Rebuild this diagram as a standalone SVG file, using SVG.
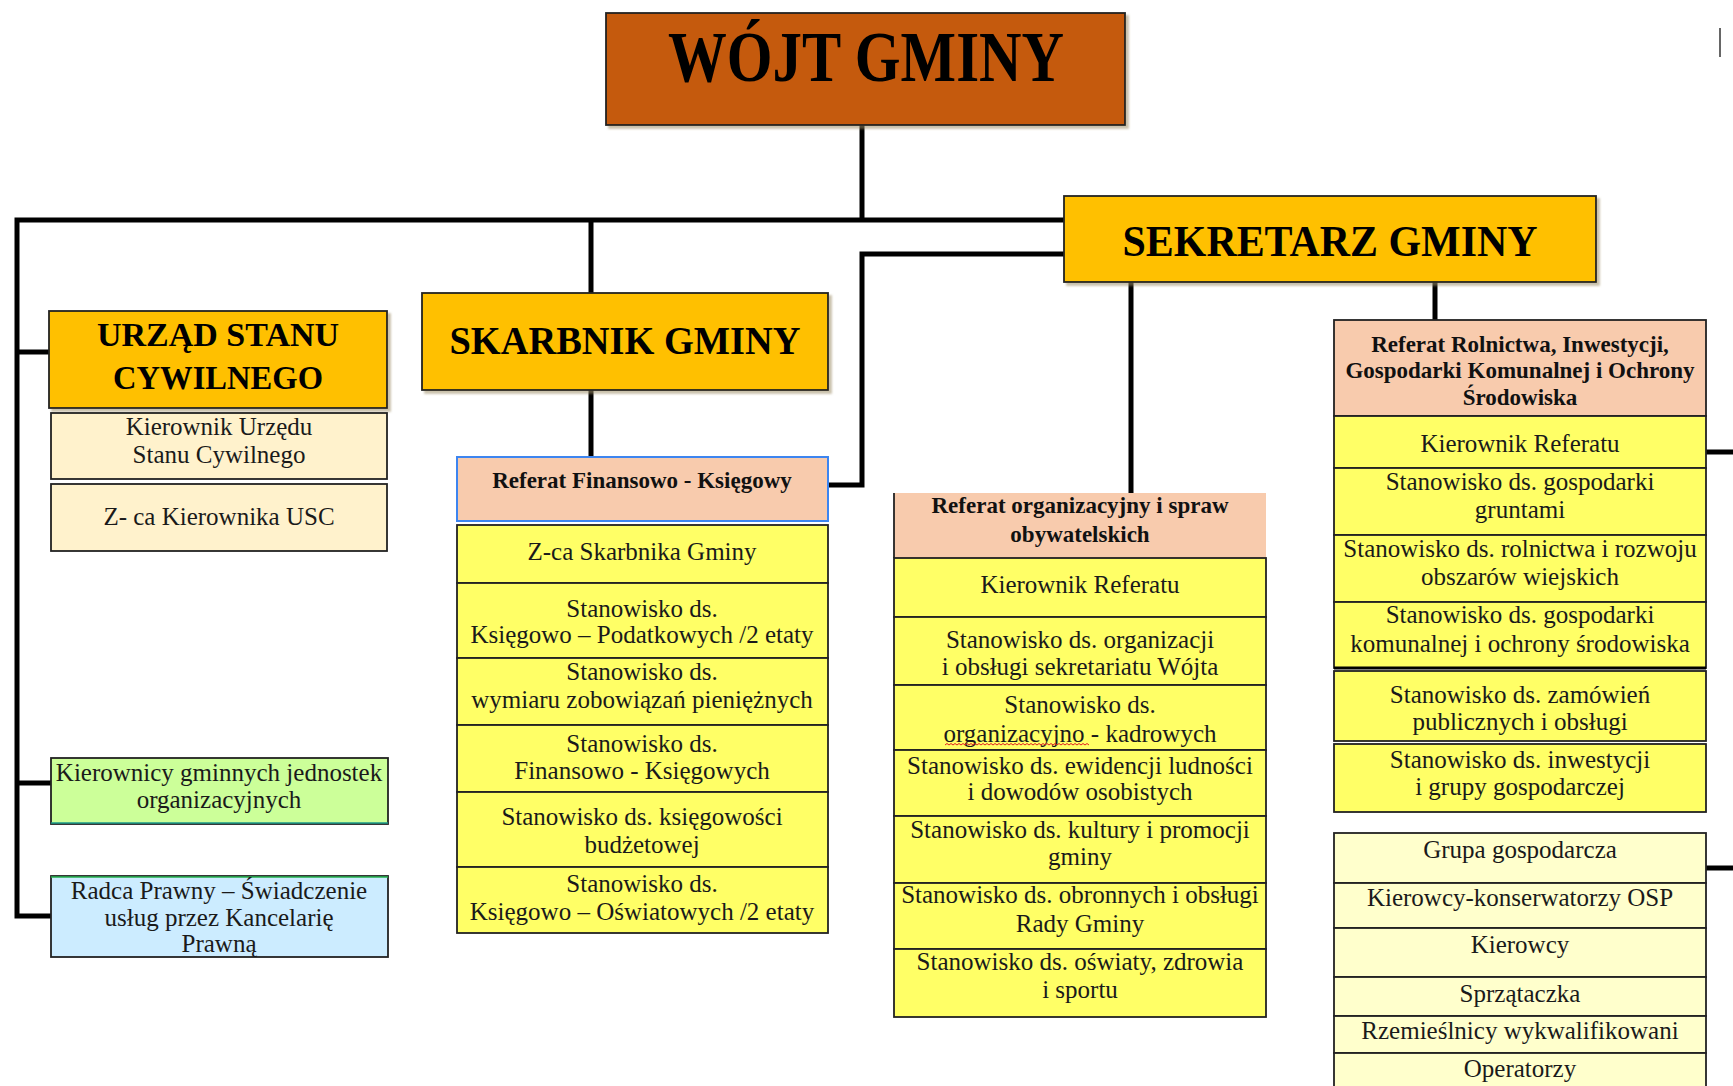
<svg xmlns="http://www.w3.org/2000/svg" width="1733" height="1086" viewBox="0 0 1733 1086">
<defs>
<style>
.conn{stroke:#000;stroke-width:5;fill:none;stroke-linejoin:miter}
.box{stroke:#222;stroke-width:1.8}
.hdr{fill:#FFC000}
.y{fill:#FFFF66}
.cream{fill:#FFF2CC}
.ly{fill:#FFFFCC}
.peach{fill:#F8CBAD}
text{font-family:"Liberation Serif","Times New Roman",serif;fill:#1a1a1a}
.t{font-size:25px;text-anchor:middle}
.b{font-weight:bold;font-size:23px;text-anchor:middle;fill:#111}
.big{font-weight:bold;text-anchor:middle;fill:#000}
</style>
<filter id="sh" x="-5%" y="-5%" width="112%" height="120%">
<feDropShadow dx="3" dy="3" stdDeviation="1.2" flood-color="#9c8f66" flood-opacity="0.55"/>
</filter>
</defs>
<rect width="1733" height="1086" fill="#fff"/>

<g id="connectors">
<path class="conn" d="M862,125 V220"/>
<path class="conn" d="M1064,220 H17 V916 H51"/>
<path class="conn" d="M17,352 H49"/>
<path class="conn" d="M17,783 H51"/>
<path class="conn" d="M591,220 V293"/>
<path class="conn" d="M591,390 V457"/>
<path class="conn" d="M828,485 H862 V254 H1064"/>
<path class="conn" d="M1131,282 V493"/>
<path class="conn" d="M1435,282 V320"/>
<path class="conn" d="M1706,452 H1733"/>
<path class="conn" d="M1706,868 H1733"/>
</g>

<line x1="1720" y1="28" x2="1720" y2="57" stroke="#333" stroke-width="1.5"/>

<g id="wojt">
<rect class="box" x="606" y="13" width="519" height="112" fill="#C55A11" filter="url(#sh)"/>
<text class="big" x="866" y="81" font-size="71" textLength="396" lengthAdjust="spacingAndGlyphs">WÓJT GMINY</text>
</g>

<g id="usc">
<rect class="box hdr" x="49" y="311" width="338" height="97" filter="url(#sh)"/>
<text class="big" x="218" y="346" font-size="34">URZĄD STANU</text>
<text class="big" x="218" y="389" font-size="34" textLength="210" lengthAdjust="spacingAndGlyphs">CYWILNEGO</text>
</g>
<g id="usc-kierownik">
<rect class="box cream" x="51" y="413" width="336" height="66"/>
<text class="t" x="219" y="435">Kierownik Urzędu</text>
<text class="t" x="219" y="463">Stanu Cywilnego</text>
</g>
<g id="usc-zca">
<rect class="box cream" x="51" y="484" width="336" height="67"/>
<text class="t" x="219" y="525">Z- ca Kierownika USC</text>
</g>

<g id="kierownicy">
<rect class="box" x="51" y="758" width="337" height="66" fill="#CCFF99"/>
<line x1="51" y1="823" x2="388" y2="823" stroke="#1a9a8a" stroke-width="1.5"/>
<text class="t" x="219" y="781">Kierownicy gminnych jednostek</text>
<text class="t" x="219" y="808">organizacyjnych</text>
</g>

<g id="radca">
<rect class="box" x="51" y="876" width="337" height="81" fill="#CCECFF"/>
<line x1="51" y1="877" x2="388" y2="877" stroke="#22b14c" stroke-width="1.5"/>
<text class="t" x="219" y="899">Radca Prawny – Świadczenie</text>
<text class="t" x="219" y="926">usług przez Kancelarię</text>
<text class="t" x="219" y="952">Prawną</text>
</g>

<g id="skarbnik">
<rect class="box hdr" x="422" y="293" width="406" height="97" filter="url(#sh)"/>
<text class="big" x="625" y="354" font-size="40" textLength="351" lengthAdjust="spacingAndGlyphs">SKARBNIK GMINY</text>
</g>

<g id="referat-fin">
<rect x="457" y="457" width="371" height="64" class="peach" stroke="#3D85F0" stroke-width="2"/>
<text class="b" x="642" y="488">Referat Finansowo - Księgowy</text>
</g>

<g id="skarbnik-stanowiska">
<rect class="box y" x="457" y="525" width="371" height="58"/>
<text class="t" x="642" y="560">Z-ca Skarbnika Gminy</text>
<rect class="box y" x="457" y="583" width="371" height="75"/>
<text class="t" x="642" y="617">Stanowisko ds.</text>
<text class="t" x="642" y="643">Księgowo – Podatkowych /2 etaty</text>
<rect class="box y" x="457" y="658" width="371" height="67"/>
<text class="t" x="642" y="680">Stanowisko ds.</text>
<text class="t" x="642" y="708">wymiaru zobowiązań pieniężnych</text>
<rect class="box y" x="457" y="725" width="371" height="67"/>
<text class="t" x="642" y="752">Stanowisko ds.</text>
<text class="t" x="642" y="779">Finansowo - Księgowych</text>
<rect class="box y" x="457" y="792" width="371" height="75"/>
<text class="t" x="642" y="825">Stanowisko ds. księgowości</text>
<text class="t" x="642" y="853">budżetowej</text>
<rect class="box y" x="457" y="867" width="371" height="66"/>
<text class="t" x="642" y="892">Stanowisko ds.</text>
<text class="t" x="642" y="920">Księgowo – Oświatowych /2 etaty</text>
</g>

<g id="sekretarz">
<rect class="box hdr" x="1064" y="196" width="532" height="86" filter="url(#sh)"/>
<text class="big" x="1330" y="256" font-size="44" textLength="415" lengthAdjust="spacingAndGlyphs">SEKRETARZ GMINY</text>
</g>

<g id="referat-org">
<rect class="peach" x="894" y="493" width="372" height="65"/>
<line x1="894" y1="493" x2="894" y2="558" stroke="#222" stroke-width="1.8"/>
<text class="b" x="1080" y="513">Referat organizacyjny i spraw</text>
<text class="b" x="1080" y="542">obywatelskich</text>
<rect class="box y" x="894" y="558" width="372" height="59"/>
<text class="t" x="1080" y="593">Kierownik Referatu</text>
<rect class="box y" x="894" y="617" width="372" height="68"/>
<text class="t" x="1080" y="648">Stanowisko ds. organizacji</text>
<text class="t" x="1080" y="675">i obsługi sekretariatu Wójta</text>
<rect class="box y" x="894" y="685" width="372" height="65"/>
<text class="t" x="1080" y="713">Stanowisko ds.</text>
<text class="t" x="1080" y="742">organizacyjno - kadrowych</text>
<path d="M945,745 l2,-1.5 l2,1.5 l2,-1.5 l2,1.5 l2,-1.5 l2,1.5 l2,-1.5 l2,1.5 l2,-1.5 l2,1.5 l2,-1.5 l2,1.5 l2,-1.5 l2,1.5 l2,-1.5 l2,1.5 l2,-1.5 l2,1.5 l2,-1.5 l2,1.5 l2,-1.5 l2,1.5 l2,-1.5 l2,1.5 l2,-1.5 l2,1.5 l2,-1.5 l2,1.5 l2,-1.5 l2,1.5 l2,-1.5 l2,1.5 l2,-1.5 l2,1.5 l2,-1.5 l2,1.5 l2,-1.5 l2,1.5 l2,-1.5 l2,1.5 l2,-1.5 l2,1.5 l2,-1.5 l2,1.5 l2,-1.5 l2,1.5 l2,-1.5 l2,1.5 l2,-1.5 l2,1.5 l2,-1.5 l2,1.5 l2,-1.5 l2,1.5 l2,-1.5 l2,1.5 l2,-1.5 l2,1.5 l2,-1.5 l2,1.5 l2,-1.5 l2,1.5 l2,-1.5 l2,1.5 l2,-1.5 l2,1.5 l2,-1.5 l2,1.5 l2,-1.5 l2,1.5 l2,-1.5 l2,1.5" fill="none" stroke="#e02020" stroke-width="1"/>
<rect class="box y" x="894" y="750" width="372" height="66"/>
<text class="t" x="1080" y="774">Stanowisko ds. ewidencji ludności</text>
<text class="t" x="1080" y="800">i dowodów osobistych</text>
<rect class="box y" x="894" y="816" width="372" height="67"/>
<text class="t" x="1080" y="838">Stanowisko ds. kultury i promocji</text>
<text class="t" x="1080" y="865">gminy</text>
<rect class="box y" x="894" y="883" width="372" height="66"/>
<text class="t" x="1080" y="903">Stanowisko ds. obronnych i obsługi</text>
<text class="t" x="1080" y="932">Rady Gminy</text>
<rect class="box y" x="894" y="949" width="372" height="68"/>
<text class="t" x="1080" y="970">Stanowisko ds. oświaty, zdrowia</text>
<text class="t" x="1080" y="998">i sportu</text>
</g>

<g id="referat-rolnictwa">
<rect class="box peach" x="1334" y="320" width="372" height="96"/>
<text class="b" x="1520" y="352">Referat Rolnictwa, Inwestycji,</text>
<text class="b" x="1520" y="378">Gospodarki Komunalnej i Ochrony</text>
<text class="b" x="1520" y="405">Środowiska</text>
<rect class="box y" x="1334" y="416" width="372" height="52"/>
<text class="t" x="1520" y="452">Kierownik Referatu</text>
<rect class="box y" x="1334" y="468" width="372" height="67"/>
<text class="t" x="1520" y="490">Stanowisko ds. gospodarki</text>
<text class="t" x="1520" y="518">gruntami</text>
<rect class="box y" x="1334" y="535" width="372" height="67"/>
<text class="t" x="1520" y="557">Stanowisko ds. rolnictwa i rozwoju</text>
<text class="t" x="1520" y="585">obszarów wiejskich</text>
<rect class="box y" x="1334" y="602" width="372" height="66"/>
<text class="t" x="1520" y="623">Stanowisko ds. gospodarki</text>
<text class="t" x="1520" y="652">komunalnej i ochrony środowiska</text>
<line x1="1334" y1="668" x2="1706" y2="668" stroke="#000" stroke-width="3"/>
</g>
<g id="zamowienia">
<rect class="box y" x="1334" y="671" width="372" height="70"/>
<text class="t" x="1520" y="703">Stanowisko ds. zamówień</text>
<text class="t" x="1520" y="730">publicznych i obsługi</text>
</g>
<g id="inwestycje">
<rect class="box y" x="1334" y="744" width="372" height="68"/>
<text class="t" x="1520" y="768">Stanowisko ds. inwestycji</text>
<text class="t" x="1520" y="795">i grupy gospodarczej</text>
</g>

<g id="grupa">
<rect class="box ly" x="1334" y="833" width="372" height="50"/>
<text class="t" x="1520" y="858">Grupa gospodarcza</text>
<rect class="box ly" x="1334" y="883" width="372" height="45"/>
<text class="t" x="1520" y="906">Kierowcy-konserwatorzy OSP</text>
<rect class="box ly" x="1334" y="928" width="372" height="49"/>
<text class="t" x="1520" y="953">Kierowcy</text>
<rect class="box ly" x="1334" y="977" width="372" height="39"/>
<text class="t" x="1520" y="1002">Sprzątaczka</text>
<rect class="box ly" x="1334" y="1016" width="372" height="37"/>
<text class="t" x="1520" y="1039">Rzemieślnicy wykwalifikowani</text>
<rect class="box ly" x="1334" y="1053" width="372" height="40"/>
<text class="t" x="1520" y="1077">Operatorzy</text>
</g>
</svg>
